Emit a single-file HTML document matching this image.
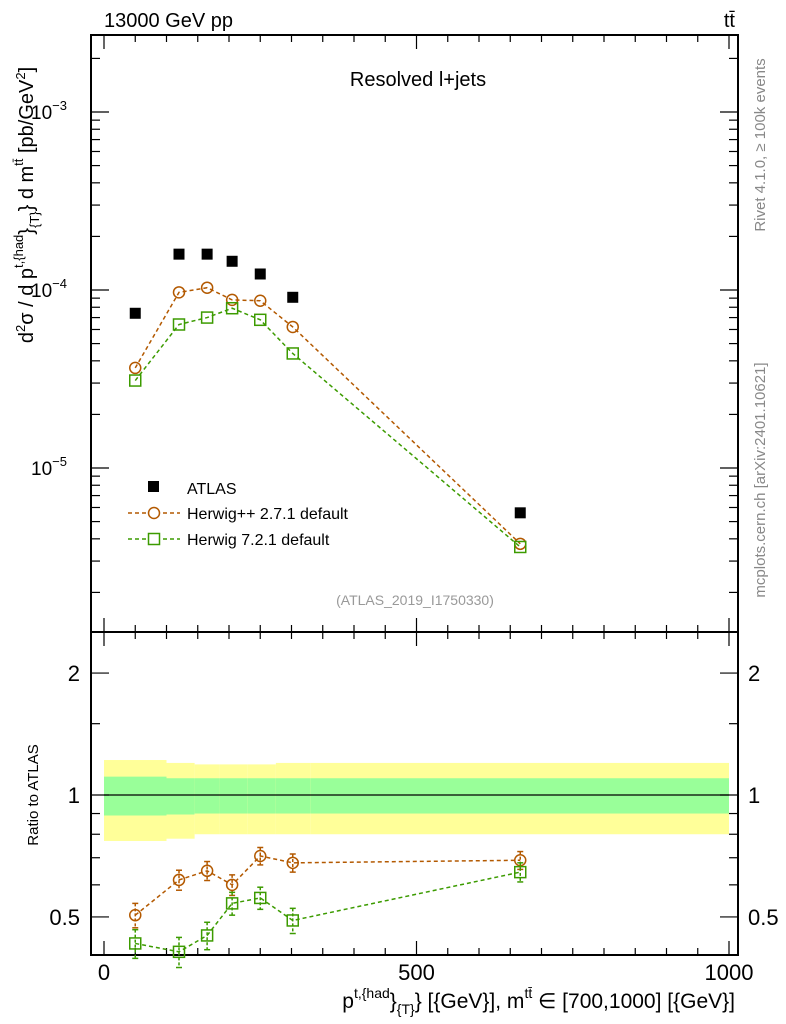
<!DOCTYPE html>
<html><head><meta charset="utf-8"><style>
html,body{margin:0;padding:0;background:#fff;}
svg{display:block;font-family:"Liberation Sans",sans-serif;}
</style></head><body>
<svg id="c" width="786" height="1024" xmlns="http://www.w3.org/2000/svg"></svg>
<script>
const centers=[50,120,165,205,250,302,666];
const edges=[0,100,145,185,230,275,330,1000];
const atlas=[7.4e-5,1.59e-4,1.59e-4,1.45e-4,1.23e-4,9.1e-5,5.6e-6];
const hpp=[3.65e-5,9.7e-5,1.03e-4,8.8e-5,8.7e-5,6.2e-5,3.75e-6];
const h7=[3.1e-5,6.4e-5,7.0e-5,7.9e-5,6.8e-5,4.4e-5,3.6e-6];
const rHpp=[0.505,0.617,0.65,0.60,0.707,0.68,0.69];
const rH7=[0.43,0.41,0.45,0.54,0.557,0.49,0.645];
const rErr=[0.035,0.035,0.035,0.035,0.035,0.035,0.035];
const yelUp=[1.22,1.2,1.19,1.19,1.19,1.2,1.2];
const yelLo=[0.77,0.78,0.8,0.8,0.8,0.8,0.8];
const grnUp=[1.11,1.1,1.1,1.1,1.1,1.1,1.1];
const grnLo=[0.89,0.895,0.9,0.9,0.9,0.9,0.9];
const xTicks=[0,500,1000];
const yTopTicks=[-3,-4,-5];
const yRatTicks=[0.5,1,2];

const S=document.getElementById('c');const NS='http://www.w3.org/2000/svg';
function mk(t,a,p){const e=document.createElementNS(NS,t);for(const k in a)e.setAttribute(k,a[k]);(p||S).appendChild(e);return e;}
const L=91,R=738,T=35,M=632,B=955;
const X=v=>104+v*0.625;
const YT=v=>290-(Math.log10(v)+4)*178;
const YR=v=>795-Math.log10(v)*405;

for(let i=0;i<centers.length;i++){
 let r=mk('rect',{x:X(edges[i]),y:YR(yelUp[i]),width:X(edges[i+1])-X(edges[i]),height:YR(yelLo[i])-YR(yelUp[i]),fill:'#ffff99'});
 
 let g=mk('rect',{x:X(edges[i]),y:YR(grnUp[i]),width:X(edges[i+1])-X(edges[i]),height:YR(grnLo[i])-YR(grnUp[i]),fill:'#99ff99'});
 
}
mk('line',{x1:X(0),x2:X(1000),y1:YR(1),y2:YR(1),stroke:'#000','stroke-width':1.2});

let f1=mk('rect',{x:L,y:T,width:R-L,height:M-T,fill:'none',stroke:'#000','stroke-width':2});

let f2=mk('rect',{x:L,y:M,width:R-L,height:B-M,fill:'none',stroke:'#000','stroke-width':2});


for(let v=0;v<=1000;v+=50){const big=v%500===0;const len=big?14:7;
 [[T,1],[M,-1],[M,1],[B,-1]].forEach(([y,d])=>mk('line',{x1:X(v),x2:X(v),y1:y,y2:y+d*len,stroke:'#000','stroke-width':1.2}));}
xTicks.forEach(v=>{let t=mk('text',{x:X(v),y:980,'font-size':22,'text-anchor':'middle'});t.textContent=v;
 });
for(let d=-6;d<=-2;d++){for(let m=1;m<10;m++){const v=m*Math.pow(10,d);const y=YT(v);if(y<T||y>M)continue;const len=m===1?18:9;
 mk('line',{x1:L,x2:L+len,y1:y,y2:y,stroke:'#000','stroke-width':1.2});mk('line',{x1:R,x2:R-len,y1:y,y2:y,stroke:'#000','stroke-width':1.2});}}
yTopTicks.forEach(d=>{let t=mk('text',{x:67,y:YT(Math.pow(10,d))+7,'font-size':19,'text-anchor':'end'});t.textContent='10';
 mk('tspan',{dy:-9,'font-size':13},t).textContent='\u2212'+(-d);
 });
[0.5,0.6,0.7,0.8,0.9,1,1.5,2].forEach(v=>{const y=YR(v);const big=[0.5,1,2].includes(v);const len=big?18:9;
 mk('line',{x1:L,x2:L+len,y1:y,y2:y,stroke:'#000','stroke-width':1.2});mk('line',{x1:R,x2:R-len,y1:y,y2:y,stroke:'#000','stroke-width':1.2});});
yRatTicks.forEach(v=>{[[80,'end'],[748,'start']].forEach(([x,a])=>{let t=mk('text',{x:x,y:YR(v)+8,'font-size':22,'text-anchor':a});t.textContent=v;
 });});

function series(vals,Y,col,shape,errs,name){
 let pts=centers.map((c,i)=>X(c)+','+Y(vals[i])).join(' ');
 let pl=mk('polyline',{points:pts,fill:'none',stroke:col,'stroke-width':1.5,'stroke-dasharray':'4,3'});
 
 centers.forEach((c,i)=>{const x=X(c),y=Y(vals[i]);
  if(errs){const y1=Y(vals[i]+errs[i]),y2=Y(vals[i]-errs[i]);
   mk('line',{x1:x,x2:x,y1:y1,y2:y2,stroke:col,'stroke-width':1.5,'stroke-dasharray':'3,2'});
   mk('line',{x1:x-3,x2:x+3,y1:y1,y2:y1,stroke:col,'stroke-width':1.5});mk('line',{x1:x-3,x2:x+3,y1:y2,y2:y2,stroke:col,'stroke-width':1.5});}
  let m=shape==='c'?mk('circle',{cx:x,cy:y,r:5.5,fill:'none',stroke:col,'stroke-width':1.5}):mk('rect',{x:x-5.5,y:y-5.5,width:11,height:11,fill:'none',stroke:col,'stroke-width':1.5});
  });
}
centers.forEach((c,i)=>{let r=mk('rect',{x:X(c)-5.5,y:YT(atlas[i])-5.5,width:11,height:11,fill:'#000'});
 });
series(hpp,YT,'#b35900','c',null,'herwigpp');
series(h7,YT,'#3c9b00','s',null,'herwig7');
series(rHpp,YR,'#b35900','c',rErr,'herwigpp-ratio');
series(rH7,YR,'#3c9b00','s',rErr,'herwig7-ratio');

let lg=mk('g',{});
mk('rect',{x:148,y:481,width:11,height:11,fill:'#000'},lg);
mk('text',{x:187,y:494,'font-size':16},lg).textContent='ATLAS';
mk('line',{x1:128,x2:180,y1:513,y2:513,stroke:'#b35900','stroke-width':1.5,'stroke-dasharray':'4,3'},lg);
mk('circle',{cx:154,cy:513,r:5.5,fill:'#fff',stroke:'#b35900','stroke-width':1.5},lg);
mk('text',{x:187,y:519,'font-size':16},lg).textContent='Herwig++ 2.7.1 default';
mk('line',{x1:128,x2:180,y1:539,y2:539,stroke:'#3c9b00','stroke-width':1.5,'stroke-dasharray':'4,3'},lg);
mk('rect',{x:148.5,y:533.5,width:11,height:11,fill:'#fff',stroke:'#3c9b00','stroke-width':1.5},lg);
mk('text',{x:187,y:545,'font-size':16},lg).textContent='Herwig 7.2.1 default';

function txt(s,a,name){let t=mk('text',a);t.textContent=s;return t;}
txt('13000 GeV pp',{x:104,y:27,'font-size':20},'top-left-label');
txt('t\u0074\u0304',{x:735,y:27,'font-size':20,'text-anchor':'end'},'process-label');
txt('Resolved l+jets',{x:418,y:86,'font-size':20,'text-anchor':'middle'},'plot-title');
txt('(ATLAS_2019_I1750330)',{x:415,y:605,'font-size':14,'text-anchor':'middle',fill:'#999'},'analysis-id');
txt('Rivet 4.1.0, \u2265 100k events',{x:0,y:0,'font-size':15,fill:'#888','text-anchor':'middle',transform:'translate(765,145) rotate(-90)'},'rivet-label');
txt('mcplots.cern.ch [arXiv:2401.10621]',{x:0,y:0,'font-size':15,fill:'#888','text-anchor':'middle',transform:'translate(765,480) rotate(-90)'},'mcplots-label');
txt('Ratio to ATLAS',{x:0,y:0,'font-size':15,'text-anchor':'middle',transform:'translate(38,795) rotate(-90)'},'ratio-y-title');
let yt=txt('',{x:0,y:0,'font-size':20,'text-anchor':'middle',transform:'translate(33,205) rotate(-90)'},'y-axis-title');
yt.innerHTML='d<tspan dy="-8" font-size="13">2</tspan><tspan dy="8">σ / d p</tspan><tspan dy="-10" font-size="13">t,{had</tspan><tspan dy="10">}</tspan><tspan dy="6" font-size="13">{T}</tspan><tspan dy="-6">} d m</tspan><tspan dy="-10" font-size="13">tt̄</tspan><tspan dy="10"> [pb/GeV</tspan><tspan dy="-8" font-size="13">2</tspan><tspan dy="8">]</tspan>';
let xt=txt('',{x:735,y:1008,'font-size':21,'text-anchor':'end'},'x-axis-title');
xt.innerHTML='p<tspan dy="-10" font-size="14">t,{had</tspan><tspan dy="10">}</tspan><tspan dy="6" font-size="14">{T}</tspan><tspan dy="-6">} [{GeV}], m</tspan><tspan dy="-10" font-size="14">tt̄</tspan><tspan dy="10"> ∈ [700,1000] [{GeV}]</tspan>';
</script>
</body></html>
